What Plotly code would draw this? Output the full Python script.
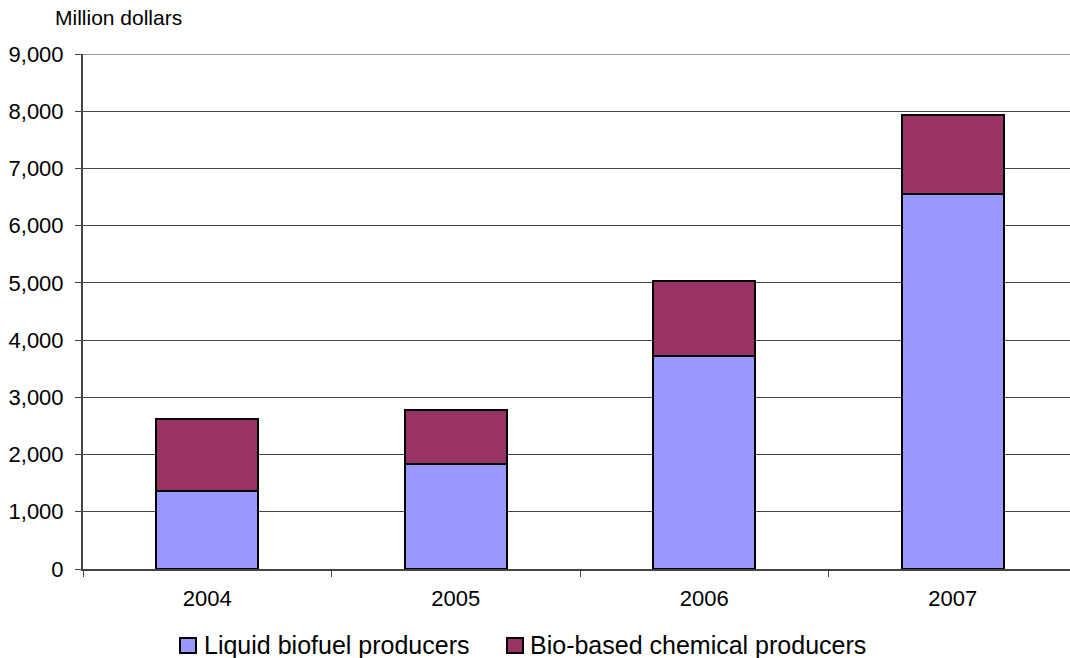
import plotly.graph_objects as go

# Revenue by producer type, million dollars
years = ["2004", "2005", "2006", "2007"]
liquid_biofuel = [1370, 1835, 3730, 6550]
bio_chemical = [1260, 945, 1300, 1380]
series_names = ["Liquid biofuel producers", "Bio-based chemical producers"]
series_colors = ["#9999FF", "#993366"]
y_ticks = [0, 1000, 2000, 3000, 4000, 5000, 6000, 7000, 8000, 9000]
y_unit = "Million dollars"

W, H = 1070, 658
L, T, B = 83, 54, 89
PW, PH = W - L, H - T - B
FONT = "Liberation Sans, Arial, sans-serif"


def px_x(px):
    return (px - L) / PW


def px_y(py):
    return (H - B - py) / PH


fig = go.Figure()
for name, vals, col in zip(series_names, [liquid_biofuel, bio_chemical], series_colors):
    fig.add_trace(go.Bar(
        x=years, y=vals, name=name,
        marker=dict(color=col, line=dict(color="black", width=2)),
        width=0.41, showlegend=False, hoverinfo="x+y+name",
    ))

# hand-drawn legend with square swatches
legend_items = [(180, 204), (507, 530)]
shapes, annotations = [], []
for (bx, tx), name, col in zip(legend_items, series_names, series_colors):
    shapes.append(dict(
        type="rect", xref="paper", yref="paper",
        x0=px_x(bx), x1=px_x(bx + 16), y0=px_y(653), y1=px_y(638),
        fillcolor=col, line=dict(color="black", width=2),
    ))
    annotations.append(dict(
        xref="paper", yref="paper", x=px_x(tx - 2), y=px_y(645),
        xanchor="left", yanchor="middle", showarrow=False,
        text=name, font=dict(family=FONT, size=25, color="black"),
    ))

# top border line of the plot area at the highest tick
shapes.append(dict(
    type="line", xref="paper", yref="y",
    x0=0, x1=1, y0=max(y_ticks), y1=max(y_ticks),
    line=dict(color="#999999", width=2), layer="below",
))

annotations.append(dict(
    xref="paper", yref="paper", x=px_x(53), y=px_y(17),
    xanchor="left", yanchor="middle", showarrow=False,
    text=y_unit, font=dict(family=FONT, size=21, color="black"),
))

fig.update_layout(
    width=W, height=H,
    margin=dict(l=L, r=0, t=T, b=B, pad=0),
    barmode="stack",
    plot_bgcolor="white", paper_bgcolor="white",
    font=dict(family=FONT, size=22, color="black"),
    shapes=shapes, annotations=annotations,
    xaxis=dict(
        type="category", range=[-0.5, -0.5 + PW / 248.5],
        showline=True, linecolor="#444444", linewidth=2,
        ticks="outside", tickson="boundaries", ticklen=6, tickcolor="#444444",
        tickwidth=1, showgrid=False, tickfont=dict(size=22),
        ticklabelstandoff=9,
    ),
    yaxis=dict(
        range=[0, 9000], tickvals=y_ticks, tickformat=",d",
        showline=True, linecolor="#444444", linewidth=2,
        ticks="outside", ticklen=6, tickcolor="#444444", tickwidth=1,
        showgrid=True, gridcolor="#444444", gridwidth=1,
        zeroline=False, tickfont=dict(size=22),
        ticklabelstandoff=7,
    ),
)

fig.write_html("out.html")
